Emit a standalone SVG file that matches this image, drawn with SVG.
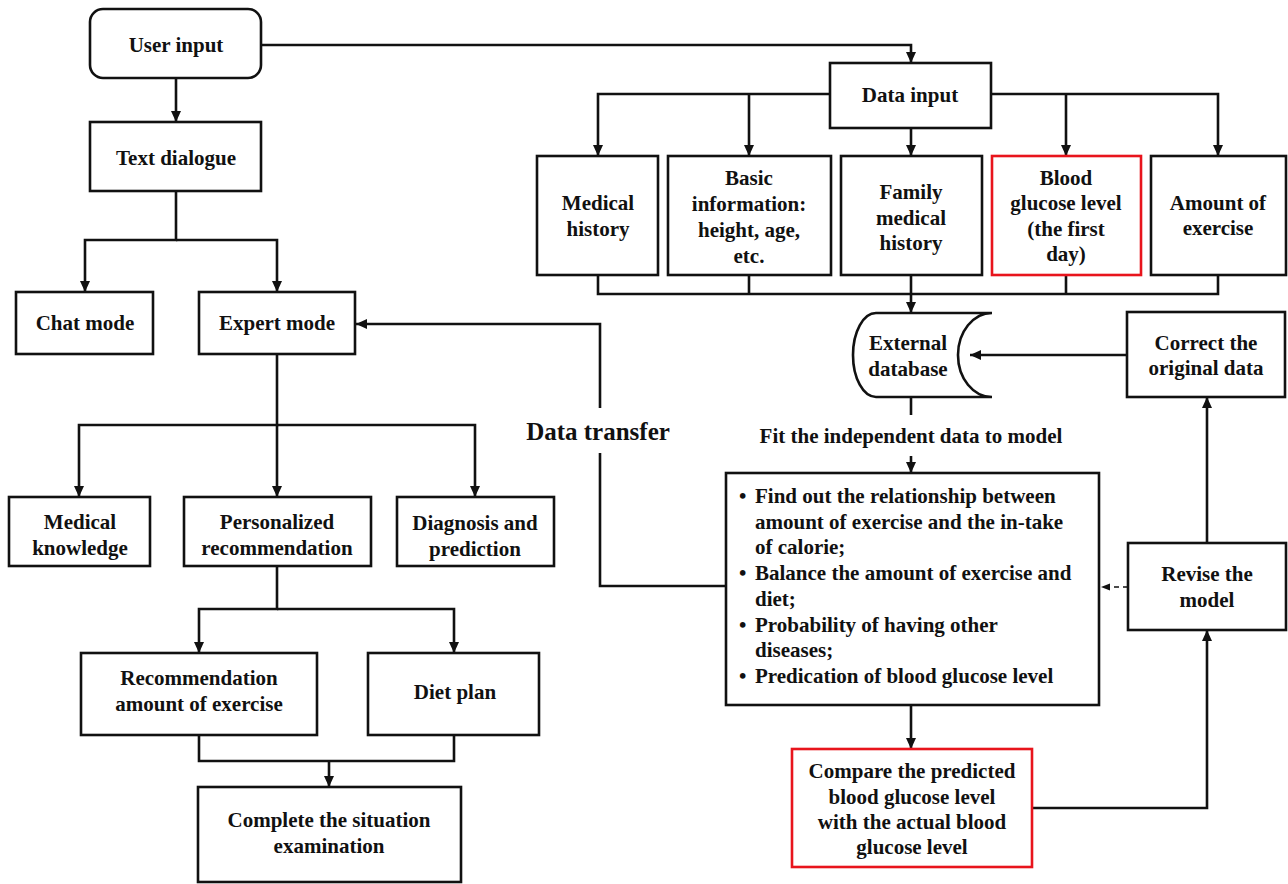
<svg xmlns="http://www.w3.org/2000/svg" width="1288" height="884" viewBox="0 0 1288 884">
<style>
.box{fill:#fff;stroke:#111;stroke-width:2.6}
.red{fill:#fff;stroke:#e8141c;stroke-width:2.6}
.ln{fill:none;stroke:#111;stroke-width:2.6}
.dash{fill:none;stroke:#111;stroke-width:1.6;stroke-dasharray:5,4}
text{font-family:"Liberation Serif","Times New Roman",serif;font-weight:bold;font-size:21px;fill:#111;text-anchor:middle}
.lft{text-anchor:start}
.big{font-size:25px}
</style>
<defs>
<marker id="ah" markerUnits="userSpaceOnUse" markerWidth="12" markerHeight="12" viewBox="0 0 12 12" refX="11" refY="6" orient="auto">
<path d="M0,1 L11,6 L0,11 Z" fill="#111"/>
</marker>
<marker id="ahs" markerUnits="userSpaceOnUse" markerWidth="10" markerHeight="10" viewBox="0 0 10 10" refX="9" refY="5" orient="auto">
<path d="M0,1.5 L9,5 L0,8.5 Z" fill="#111"/>
</marker>
</defs>

<g id="connectors">
<path class="ln" d="M176,78 V122" marker-end="url(#ah)"/>
<path class="ln" d="M176,191 V240 H85 V292" marker-end="url(#ah)"/>
<path class="ln" d="M176,240 H277 V292" marker-end="url(#ah)"/>
<path class="ln" d="M277,354 V425 H79 V497" marker-end="url(#ah)"/>
<path class="ln" d="M277,425 V497" marker-end="url(#ah)"/>
<path class="ln" d="M277,425 H475 V497" marker-end="url(#ah)"/>
<path class="ln" d="M277,566 V609 H199 V653" marker-end="url(#ah)"/>
<path class="ln" d="M277,609 H454 V653" marker-end="url(#ah)"/>
<path class="ln" d="M199,735 V761 H454 V735"/>
<path class="ln" d="M329,761 V787" marker-end="url(#ah)"/>
<path class="ln" d="M261,45 H911 V63" marker-end="url(#ah)"/>
<path class="ln" d="M830,94 H598 V156" marker-end="url(#ah)"/>
<path class="ln" d="M749,94 V156" marker-end="url(#ah)"/>
<path class="ln" d="M911,128 V156" marker-end="url(#ah)"/>
<path class="ln" d="M991,94 H1218 V156" marker-end="url(#ah)"/>
<path class="ln" d="M1066,94 V156" marker-end="url(#ah)"/>
<path class="ln" d="M598,275 V294 H1218 V275"/>
<path class="ln" d="M749,275 V294 M1066,275 V294"/>
<path class="ln" d="M911,275 V313" marker-end="url(#ah)"/>
<path class="ln" d="M911,397 V415"/>
<path class="ln" d="M911,456 V473" marker-end="url(#ah)"/>
<path class="ln" d="M1127,355 H970" marker-end="url(#ah)"/>
<path class="ln" d="M726,586 H600 V453"/>
<path class="ln" d="M600,408 V324 H356" marker-end="url(#ah)"/>
<path class="ln" d="M911,705 V749" marker-end="url(#ah)"/>
<path class="ln" d="M1032,808 H1207 V630" marker-end="url(#ah)"/>
<path class="ln" d="M1207,543 V397" marker-end="url(#ah)"/>
<path class="dash" d="M1128,587 H1101" marker-end="url(#ahs)"/>
<text class="big" x="598" y="440">Data transfer</text>
<text x="911" y="443">Fit the independent data to model</text>
</g>

<g id="user-input"><rect class="box" x="90" y="9" width="171" height="69" rx="13"/><text x="176" y="52">User input</text></g>
<g id="text-dialogue"><rect class="box" x="90" y="122" width="171" height="69"/><text x="176" y="165">Text dialogue</text></g>
<g id="chat-mode"><rect class="box" x="16" y="292" width="137" height="62"/><text x="85" y="330">Chat mode</text></g>
<g id="expert-mode"><rect class="box" x="199" y="292" width="156" height="62"/><text x="277" y="330">Expert mode</text></g>
<g id="medical-knowledge"><rect class="box" x="9" y="497" width="141" height="69"/><text x="80" y="529">Medical</text><text x="80" y="555">knowledge</text></g>
<g id="personalized"><rect class="box" x="184" y="497" width="187" height="69"/><text x="277" y="529">Personalized</text><text x="277" y="555">recommendation</text></g>
<g id="diagnosis"><rect class="box" x="397" y="497" width="157" height="69"/><text x="475" y="530">Diagnosis and</text><text x="475" y="556">prediction</text></g>
<g id="rec-exercise"><rect class="box" x="81" y="653" width="236" height="82"/><text x="199" y="685">Recommendation</text><text x="199" y="711">amount of exercise</text></g>
<g id="diet-plan"><rect class="box" x="368" y="653" width="171" height="82"/><text x="455" y="699">Diet plan</text></g>
<g id="complete"><rect class="box" x="198" y="787" width="263" height="95"/><text x="329" y="827">Complete the situation</text><text x="329" y="853">examination</text></g>

<g id="data-input"><rect class="box" x="830" y="63" width="161" height="65"/><text x="910" y="102">Data input</text></g>
<g id="medical-history"><rect class="box" x="537" y="156" width="121" height="119"/><text x="598" y="210">Medical</text><text x="598" y="236">history</text></g>
<g id="basic-info"><rect class="box" x="668" y="156" width="163" height="119"/><text x="749" y="185">Basic</text><text x="749" y="211">information:</text><text x="749" y="237">height, age,</text><text x="749" y="263">etc.</text></g>
<g id="family-history"><rect class="box" x="841" y="156" width="141" height="119"/><text x="911" y="199">Family</text><text x="911" y="225">medical</text><text x="911" y="250">history</text></g>
<g id="blood-glucose"><rect class="red" x="992" y="156" width="149" height="119"/><text x="1066" y="185">Blood</text><text x="1066" y="210">glucose level</text><text x="1066" y="236">(the first</text><text x="1066" y="261">day)</text></g>
<g id="amount-exercise"><rect class="box" x="1151" y="156" width="135" height="119"/><text x="1218" y="210">Amount of</text><text x="1218" y="235">exercise</text></g>
<g id="external-db"><path class="box" d="M992,313 H876 A23,42 0 0 0 876,397 H992 A34,42 0 0 1 992,313 Z"/><text x="908" y="350">External</text><text x="908" y="376">database</text></g>
<g id="correct-data"><rect class="box" x="1127" y="312" width="158" height="85"/><text x="1206" y="350">Correct the</text><text x="1206" y="375">original data</text></g>
<g id="model-box"><rect class="box" x="726" y="473" width="373" height="232"/>
<text class="lft" x="739" y="503">•</text><text class="lft" x="755" y="503">Find out the relationship between</text>
<text class="lft" x="755" y="529">amount of exercise and the in-take</text>
<text class="lft" x="755" y="554">of calorie;</text>
<text class="lft" x="739" y="580">•</text><text class="lft" x="755" y="580">Balance the amount of exercise and</text>
<text class="lft" x="755" y="606">diet;</text>
<text class="lft" x="739" y="632">•</text><text class="lft" x="755" y="632">Probability of having other</text>
<text class="lft" x="755" y="657">diseases;</text>
<text class="lft" x="739" y="683">•</text><text class="lft" x="755" y="683">Predication of blood glucose level</text>
</g>
<g id="revise-model"><rect class="box" x="1128" y="543" width="158" height="87"/><text x="1207" y="581">Revise the</text><text x="1207" y="607">model</text></g>
<g id="compare"><rect class="red" x="792" y="749" width="240" height="118"/><text x="912" y="778">Compare the predicted</text><text x="912" y="804">blood glucose level</text><text x="912" y="829">with the actual blood</text><text x="912" y="854">glucose level</text></g>
</svg>
